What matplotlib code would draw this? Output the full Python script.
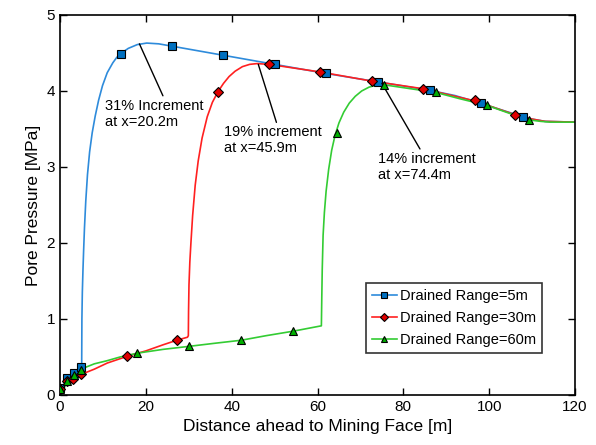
import matplotlib
matplotlib.use("Agg")
import matplotlib.pyplot as plt
from matplotlib.lines import Line2D

plt.rcParams['font.family'] = ['Liberation Sans', 'DejaVu Sans']

## curve points (distance [m], pressure [MPa])
x_5m = [0, 1.6, 3.3, 5.0, 5.05, 5.1, 5.2, 5.35, 5.5, 5.7, 6.0, 6.4, 6.9, 7.5, 8.2, 9.0, 9.9, 11.0,
        12.3, 13.2, 14.1, 15.9, 18.0, 20.2, 23, 26, 38, 50, 62, 74, 86, 92, 98, 104, 108, 110, 113, 120]
y_5m = [0.03, 0.22, 0.29, 0.36, 0.40, 1.0, 1.35, 1.65, 1.9, 2.2, 2.55, 2.9, 3.2, 3.45, 3.67, 3.88, 4.07, 4.24,
        4.37, 4.44, 4.49, 4.56, 4.61, 4.63, 4.62, 4.59, 4.47, 4.35, 4.23, 4.12, 4.01, 3.94, 3.84, 3.73, 3.66, 3.63, 3.60, 3.59]

x_30m = [0, 1.6, 3.1, 4.9, 8, 11, 15.7, 20, 24, 27.2, 29.7, 29.9, 29.95, 30.05, 30.25, 30.5, 30.9,
         31.5, 32.2, 33.1, 34.3, 35.5, 36.8, 38.1, 39.4, 40.8, 42.5, 44.2, 45.9, 48.7, 60.6, 72.6,
         84.5, 96.6, 105.9, 110, 113, 120]
y_30m = [0.02, 0.17, 0.21, 0.27, 0.34, 0.42, 0.51, 0.58, 0.66, 0.72, 0.76, 0.78, 1.1, 1.45, 1.75, 2.0, 2.36,
         2.76, 3.08, 3.38, 3.66, 3.85, 3.99, 4.10, 4.19, 4.26, 4.32, 4.35, 4.36, 4.35, 4.25, 4.13,
         4.03, 3.87, 3.69, 3.63, 3.60, 3.59]

x_60m = [0.3, 1.6, 3.3, 4.9, 6.2, 8, 10.9, 14, 18, 24, 30.1, 36, 42.2, 48, 54.4, 60.9, 61.0,
         61.1, 61.3, 61.6, 62.0, 62.6, 63.3, 64.1, 65.0, 66.1, 67.4, 68.8, 70.3, 72.0, 73.5, 74.4,
         75.6, 87.6, 93, 99.5, 104, 109.2, 112, 114.2, 120]
y_60m = [0.0, 0.18, 0.26, 0.33, 0.37, 0.41, 0.45, 0.50, 0.55, 0.60, 0.64, 0.68, 0.72, 0.78, 0.84, 0.91, 1.3,
         1.65, 2.1, 2.4, 2.68, 2.97, 3.22, 3.42, 3.58, 3.72, 3.84, 3.93, 4.00, 4.05, 4.075, 4.08,
         4.08, 3.98, 3.90, 3.81, 3.72, 3.62, 3.60, 3.59, 3.59]

## marker points
mx_5m = [0, 1.6, 3.3, 4.9, 14.1, 26.0, 37.9, 50.0, 62.0, 74.0, 86.3, 98.1, 107.8]
my_5m = [0.09, 0.22, 0.29, 0.37, 4.49, 4.59, 4.47, 4.35, 4.23, 4.12, 4.01, 3.84, 3.66]
mx_30m = [0, 1.6, 3.1, 4.9, 15.7, 27.2, 36.8, 48.8, 60.6, 72.6, 84.5, 96.6, 105.9]
my_30m = [0.08, 0.18, 0.21, 0.28, 0.51, 0.72, 3.99, 4.35, 4.25, 4.13, 4.02, 3.88, 3.69]
mx_60m = [0, 1.6, 3.3, 4.9, 18.0, 30.1, 42.2, 54.4, 64.5, 75.6, 87.6, 99.5, 109.2]
my_60m = [0.08, 0.18, 0.26, 0.33, 0.55, 0.64, 0.72, 0.84, 3.45, 4.08, 3.98, 3.81, 3.62]

labels = ["Drained Range=5m", "Drained Range=30m", "Drained Range=60m"]
line_colors = ['#2E8BDB', '#FF2020', '#33CC33']
face_colors = ['#0070C0', '#E00000', '#00B000']
markers = ['s', 'D', '^']
msizes = [5.5, 5, 5.5]

fig = plt.figure(figsize=(5.96, 4.45), dpi=100)
ax = fig.add_axes([0.1007, 0.1124, 0.8641, 0.8540])

series = [(x_5m, y_5m, mx_5m, my_5m), (x_30m, y_30m, mx_30m, my_30m), (x_60m, y_60m, mx_60m, my_60m)]
for i, (lx, ly, px, py) in enumerate(series):
    ax.plot(lx, ly, color=line_colors[i], lw=1.2, zorder=2)
for i, (lx, ly, px, py) in enumerate(series):
    ax.plot(px, py, ls='none', marker=markers[i], ms=msizes[i], mfc=face_colors[i],
            mec='black', mew=0.8, zorder=3 + i)

## annotations
ax.annotate("31% Increment\nat x=20.2m", xy=(18.5, 4.62), xytext=(10.5, 3.9),
            fontsize=10.5, va='top', ha='left',
            arrowprops=dict(arrowstyle='-', color='black', lw=1, shrinkA=0, shrinkB=0,
                            relpos=(0.6, 1.0)))
ax.annotate("19% increment\nat x=45.9m", xy=(46.2, 4.35), xytext=(38.1, 3.55),
            fontsize=10.5, va='top', ha='left',
            arrowprops=dict(arrowstyle='-', color='black', lw=1, shrinkA=0, shrinkB=0,
                            relpos=(0.55, 1.0)))
ax.annotate("14% increment\nat x=74.4m", xy=(75.0, 4.10), xytext=(74.0, 3.2),
            fontsize=10.5, va='top', ha='left',
            arrowprops=dict(arrowstyle='-', color='black', lw=1, shrinkA=0, shrinkB=0,
                            relpos=(0.45, 1.0)))

ax.set_xlim(0, 120)
ax.set_ylim(0, 5)
ax.set_xticks(range(0, 121, 20))
ax.set_yticks(range(0, 6))
ax.tick_params(direction='in', top=True, right=True, length=5, labelsize=11, width=1)
for s in ax.spines.values():
    s.set_linewidth(1.2)

ax.set_xlabel("Distance ahead to Mining Face [m]", fontsize=12.5)
ax.set_ylabel("Pore Pressure [MPa]", fontsize=12.5)

handles = [Line2D([], [], color=line_colors[i], lw=1.2, marker=markers[i], ms=msizes[i] - 0.5,
                  mfc=face_colors[i], mec='black', mew=0.8) for i in range(3)]
leg = ax.legend(handles, labels, loc='lower right', bbox_to_anchor=(0.935, 0.11),
                fontsize=10.5, frameon=True, fancybox=False, edgecolor='black',
                handlelength=1.7, handletextpad=0.2, borderpad=0.4, labelspacing=0.55,
                borderaxespad=0)
leg.get_frame().set_linewidth(1.2)

fig.savefig("out.png", dpi=100)
